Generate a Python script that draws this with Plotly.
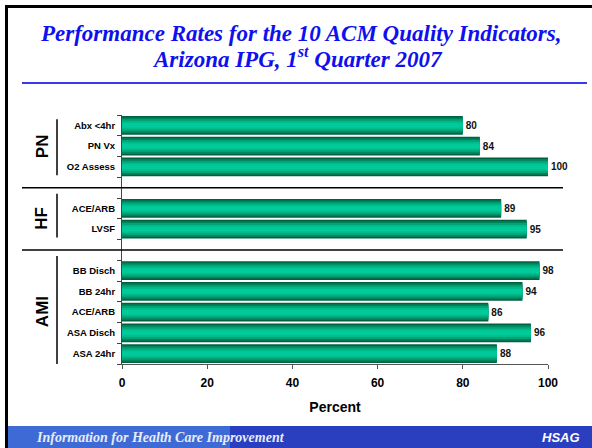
import plotly.graph_objects as go

# ---- data ----
groups = ["PN", "HF", "AMI"]
group_measures = [
    ["Abx <4hr", "PN Vx", "O2 Assess"],
    ["ACE/ARB", "LVSF"],
    ["BB Disch", "BB 24hr", "ACE/ARB", "ASA Disch", "ASA 24hr"],
]
group_values = [
    [80, 84, 100],
    [89, 95],
    [98, 94, 86, 96, 88],
]
x_ticks = [0, 20, 40, 60, 80, 100]
title_line1 = "Performance Rates for the 10 ACM Quality Indicators,"
title_line2 = "Arizona IPG, 1<sup>st</sup> Quarter 2007"
x_title = "Percent"
footer_text = "Information for Health Care Improvement"
logo_text = "HSAG"

# ---- geometry ----
W, H = 592, 448
L, R, T, B = 122, 548, 115, 364  # plot area in pixels


def px_x(px):
    return (px - L) / (R - L)


def px_y(py):
    return (B - py) / (B - T)


# build slot positions (with a blank slot between groups)
pos, labels, vals, group_spans = [], [], [], []
slot = 0
for gi, (meas, v) in enumerate(zip(group_measures, group_values)):
    start = slot
    for m, val in zip(meas, v):
        pos.append(slot)
        labels.append(m)
        vals.append(val)
        slot += 1
    group_spans.append((start, slot - 1))
    if gi < len(groups) - 1:
        slot += 1  # gap slot
n_slots = slot

fig = go.Figure()

# cylinder-like shading by overlaying narrower, lighter bars
shades = [("#00613f", 0.90), ("#00825a", 0.76), ("#00a477", 0.58), ("#00bb8c", 0.40), ("#00c99a", 0.22)]
for i, (col, w) in enumerate(shades):
    kw = {}
    if i == 0:
        kw = dict(text=[str(v) for v in vals], textposition="outside",
                  textfont=dict(family="Arial, Liberation Sans", size=10, color="#111111", weight="bold"))
    fig.add_trace(go.Bar(
        x=vals, y=pos, orientation="h", width=w,
        marker=dict(color=col, line=dict(width=0)),
        cliponaxis=False, hoverinfo="skip", showlegend=False, **kw,
    ))

# boundaries between slots for tick marks
boundaries = [p - 0.5 for p in range(n_slots + 1)]

fig.update_layout(
    width=W, height=H,
    margin=dict(l=L, r=W - R, t=T, b=H - B, pad=0),
    paper_bgcolor="white", plot_bgcolor="white",
    barmode="overlay",
    font=dict(family="Arial, Liberation Sans", color="black"),
    xaxis=dict(
        range=[0, 100], tickvals=x_ticks, ticktext=[str(t) for t in x_ticks],
        showgrid=False, zeroline=False,
        showline=True, linecolor="#555555", linewidth=1,
        ticks="outside", ticklen=4, tickcolor="#555555",
        ticklabelstandoff=4,
        tickfont=dict(size=12, weight="bold", family="Arial, Liberation Sans"),
        title=dict(text=x_title, font=dict(size=14, weight="bold"), standoff=12),
    ),
    yaxis=dict(
        range=[n_slots - 0.5, -0.5],
        tickvals=pos, ticktext=labels,
        ticks="", showgrid=False, zeroline=False,
        showline=True, linecolor="#444444", linewidth=1,
        tickfont=dict(size=9.5, weight="bold", family="Arial, Liberation Sans"),
        ticklabelstandoff=4,
        minor=dict(tickvals=boundaries, ticks="outside", ticklen=4, tickcolor="#444444", showgrid=False),
    ),
)

shapes = []
annotations = []

# separators between groups
for gi in range(len(groups) - 1):
    ysep = group_spans[gi][1] + 1
    shapes.append(dict(type="line", xref="paper", yref="y",
                       x0=px_x(22), x1=px_x(563), y0=ysep, y1=ysep,
                       line=dict(color="black", width=1.5)))

# group labels and vertical brackets
for g, (s, e) in zip(groups, group_spans):
    y0 = s - 0.3 if s == 0 else s - 0.7
    shapes.append(dict(type="line", xref="paper", yref="y",
                       x0=px_x(57), x1=px_x(57), y0=y0, y1=e + 0.5 if e == n_slots - 1 else e + 0.4,
                       line=dict(color="black", width=1.5)))
    annotations.append(dict(xref="paper", yref="y", x=px_x(42), y=(s + e) / 2,
                            text=f"<b>{g}</b>", textangle=-90, showarrow=False,
                            font=dict(size=17, family="Arial, Liberation Sans", color="black"),
                            xanchor="center", yanchor="middle"))

# title
annotations.append(dict(xref="paper", yref="paper", x=px_x(301), y=px_y(34),
                        text=f"<b><i>{title_line1}</i></b>", showarrow=False,
                        font=dict(size=23, family="Liberation Serif, Times New Roman", color="#1010ee"),
                        xanchor="center", yanchor="middle"))
annotations.append(dict(xref="paper", yref="paper", x=px_x(297), y=px_y(57),
                        text=f"<b><i>{title_line2}</i></b>", showarrow=False,
                        font=dict(size=23, family="Liberation Serif, Times New Roman", color="#1010ee"),
                        xanchor="center", yanchor="middle"))
# title rule
shapes.append(dict(type="line", xref="paper", yref="paper",
                   x0=px_x(22), x1=px_x(587), y0=px_y(83), y1=px_y(83),
                   line=dict(color="#3a3ae8", width=2)))

# footer banner
shapes.append(dict(type="rect", xref="paper", yref="paper", layer="below",
                   x0=px_x(6), x1=px_x(W), y0=px_y(426), y1=px_y(H),
                   line=dict(width=0),
                   fillcolor="#2a3fc0"))
shapes.append(dict(type="rect", xref="paper", yref="paper", layer="below",
                   x0=px_x(6), x1=px_x(230), y0=px_y(426), y1=px_y(H),
                   line=dict(width=0), fillcolor="#3d6ad4"))
annotations.append(dict(xref="paper", yref="paper", x=px_x(34), y=px_y(437),
                        text=f"<b><i>{footer_text}</i></b>", showarrow=False,
                        font=dict(size=14, family="Liberation Serif, Times New Roman", color="#e8ecf8"),
                        xanchor="left", yanchor="middle"))
annotations.append(dict(xref="paper", yref="paper", x=px_x(582), y=px_y(437),
                        text=f"<b><i>{logo_text}</i></b>", showarrow=False,
                        font=dict(size=13, family="Arial, Liberation Sans", color="white"),
                        xanchor="right", yanchor="middle"))

# outer frame (left and top)
shapes.append(dict(type="line", xref="paper", yref="paper",
                   x0=px_x(6.5), x1=px_x(6.5), y0=px_y(5), y1=px_y(H),
                   line=dict(color="black", width=3)))
shapes.append(dict(type="line", xref="paper", yref="paper",
                   x0=px_x(5), x1=px_x(W), y0=px_y(6.5), y1=px_y(6.5),
                   line=dict(color="black", width=3)))

fig.update_layout(shapes=shapes, annotations=annotations)

fig.write_html("out.html", config={"displayModeBar": False},
               post_script="document.body.style.margin='0';document.body.style.padding='0';")
